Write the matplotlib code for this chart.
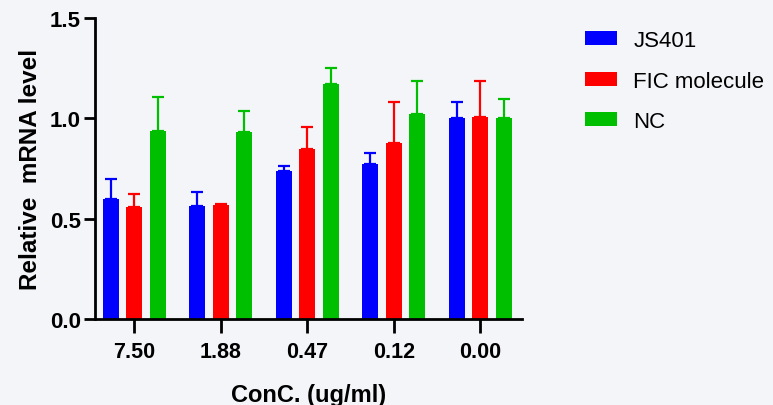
import numpy as np
import matplotlib.pyplot as plt

plt.rcParams['font.family'] = ['Liberation Sans', 'DejaVu Sans']

conc = ["7.50", "1.88", "0.47", "0.12", "0.00"]
series = ["JS401", "FIC molecule", "NC"]
js401 = [0.598, 0.563, 0.737, 0.771, 1.000]
fic = [0.558, 0.570, 0.847, 0.875, 1.005]
nc = [0.935, 0.932, 1.171, 1.023, 1.000]
js401_err = [0.100, 0.070, 0.027, 0.056, 0.083]
fic_err = [0.066, 0.003, 0.108, 0.208, 0.179]
nc_err = [0.173, 0.106, 0.080, 0.164, 0.096]

colors = ["#0000ff", "#ff0000", "#00bf00"]
bg = "#f4f5f9"

fig = plt.figure(figsize=(7.73, 4.06), dpi=100, facecolor=bg)
ax = fig.add_axes([0.1229, 0.2118, 0.675 - 0.1229, 0.953 - 0.2118], facecolor=bg)

x = np.arange(len(conc))
width = 0.185
step = 0.272
handles = []
for i, (vals, errs) in enumerate([(js401, js401_err), (fic, fic_err), (nc, nc_err)]):
    pos = x + (i - 1) * step
    b = ax.bar(pos, vals, width, color=colors[i], label=series[i], zorder=2)
    ax.errorbar(pos, vals, yerr=[np.zeros(len(errs)), errs], fmt="none",
                ecolor=colors[i], elinewidth=1.6, capsize=4, capthick=1.6, zorder=3)
    handles.append(b)

ax.set_xlim(-0.455, 4.48)
ax.set_ylim(0, 1.5)
ax.set_yticks([0, 0.5, 1.0, 1.5])
ax.set_yticklabels(["0.0", "0.5", "1.0", "1.5"])
ax.set_xticks(x)
ax.set_xticklabels(conc)

for s in ["top", "right"]:
    ax.spines[s].set_visible(False)
for s in ["left", "bottom"]:
    ax.spines[s].set_linewidth(2)
ax.tick_params(axis="y", length=8, width=2, labelsize=16, pad=2)
ax.tick_params(axis="x", length=10, width=2, labelsize=15.5, pad=6)
for lab in ax.get_xticklabels() + ax.get_yticklabels():
    lab.set_fontweight("bold")

ax.set_ylabel("Relative  mRNA level", fontsize=17.5, fontweight="bold", labelpad=6)
ax.set_xlabel("ConC. (ug/ml)", fontsize=17, fontweight="bold", labelpad=15)

fig.legend(handles=handles, labels=series, loc="upper left",
           bbox_to_anchor=(0.743, 0.951), frameon=False, fontsize=16,
           borderpad=0, handlelength=1.4, handleheight=0.6,
           labelspacing=0.88, handletextpad=0.75)

fig.savefig("out.png", dpi=100, facecolor=bg)
